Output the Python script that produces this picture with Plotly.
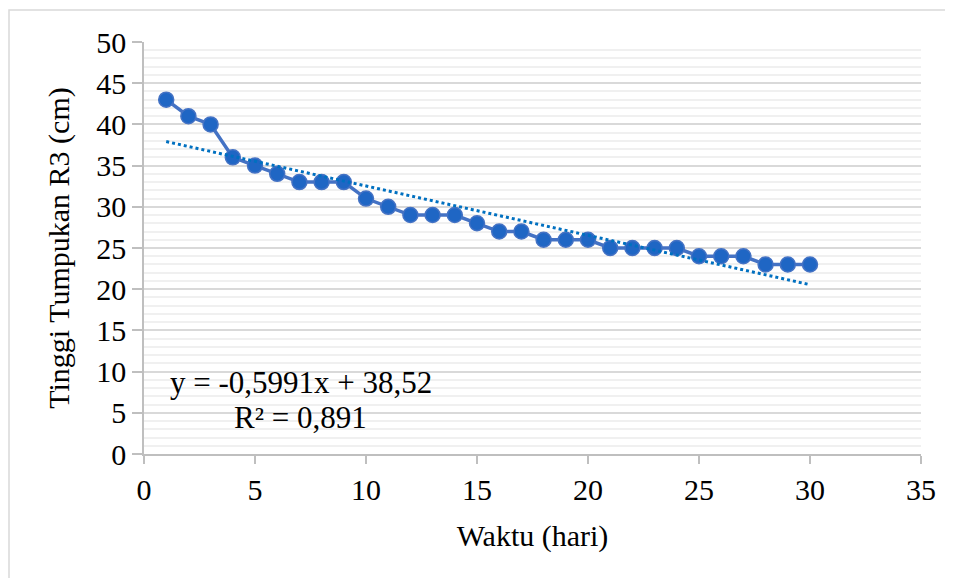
import numpy as np
import plotly.graph_objects as go

days = list(range(1, 31))
height = [43, 41, 40, 36, 35, 34, 33, 33, 33, 31, 30, 29, 29, 29, 28,
          27, 27, 26, 26, 26, 25, 25, 25, 25, 24, 24, 24, 23, 23, 23]
eq_line1 = "y = -0,5991x + 38,52"
eq_line2 = "R² = 0,891"

slope, intercept = np.polyfit(days, height, 1)
trend_x = [days[0], days[-1]]
trend_y = [slope * x + intercept for x in trend_x]

font_family = "Liberation Serif"
FS = 30
tfont = dict(family=font_family, size=FS, color="black")

fig = go.Figure()
fig.add_trace(go.Scatter(
    x=days, y=height, mode="lines+markers",
    line=dict(color="#4472C4", width=3.5),
    marker=dict(size=15, color="#1F66C4", line=dict(color="#4472C4", width=1.5)),
    showlegend=False, hoverinfo="skip"))
fig.add_trace(go.Scatter(
    x=trend_x, y=trend_y, mode="lines",
    line=dict(color="#0070C0", width=3, dash="dot"),
    showlegend=False, hoverinfo="skip"))

fig.add_annotation(x=7.07, y=8.62, xref="x", yref="y", text=eq_line1,
                   showarrow=False, font=dict(family=font_family, size=31, color="black"))
fig.add_annotation(x=7.07, y=4.37, xref="x", yref="y", text=eq_line2,
                   showarrow=False, font=dict(family=font_family, size=31, color="black"))

fig.add_shape(type="rect", xref="paper", yref="paper",
              x0=(9 - 144) / 777, x1=(970 - 144) / 777,
              y0=(454 - 600) / 412, y1=(454 - 10) / 412,
              line=dict(color="#D9D9D9", width=1.5), fillcolor="rgba(0,0,0,0)",
              layer="below")

# page body has an 8px margin: shrink the figure accordingly
fig.update_layout(
    width=945, height=570,
    margin=dict(l=136, r=32, t=34, b=124),
    paper_bgcolor="white", plot_bgcolor="white",
    font=tfont,
    xaxis=dict(range=[0, 35], dtick=5, tick0=0, showgrid=False, zeroline=False,
               showline=True, linecolor="#BFBFBF", linewidth=1.5,
               ticks="outside", ticklen=8, tickcolor="#BFBFBF", tickwidth=1.5,
               title=dict(text="Waktu (hari)", font=tfont, standoff=20),
               tickfont=tfont),
    yaxis=dict(range=[0, 50], dtick=5, tick0=0, showgrid=True, gridcolor="#D9D9D9",
               gridwidth=1.5, zeroline=False,
               showline=True, linecolor="#BFBFBF", linewidth=1.5,
               ticks="outside", ticklen=10, tickcolor="#BFBFBF", tickwidth=1.5,
               minor=dict(dtick=1, showgrid=True, gridcolor="#F0F0F0", gridwidth=1.5),
               title=dict(text="Tinggi Tumpukan R3 (cm)", font=tfont, standoff=18),
               tickfont=tfont),
)

fig.write_html("out.html")
